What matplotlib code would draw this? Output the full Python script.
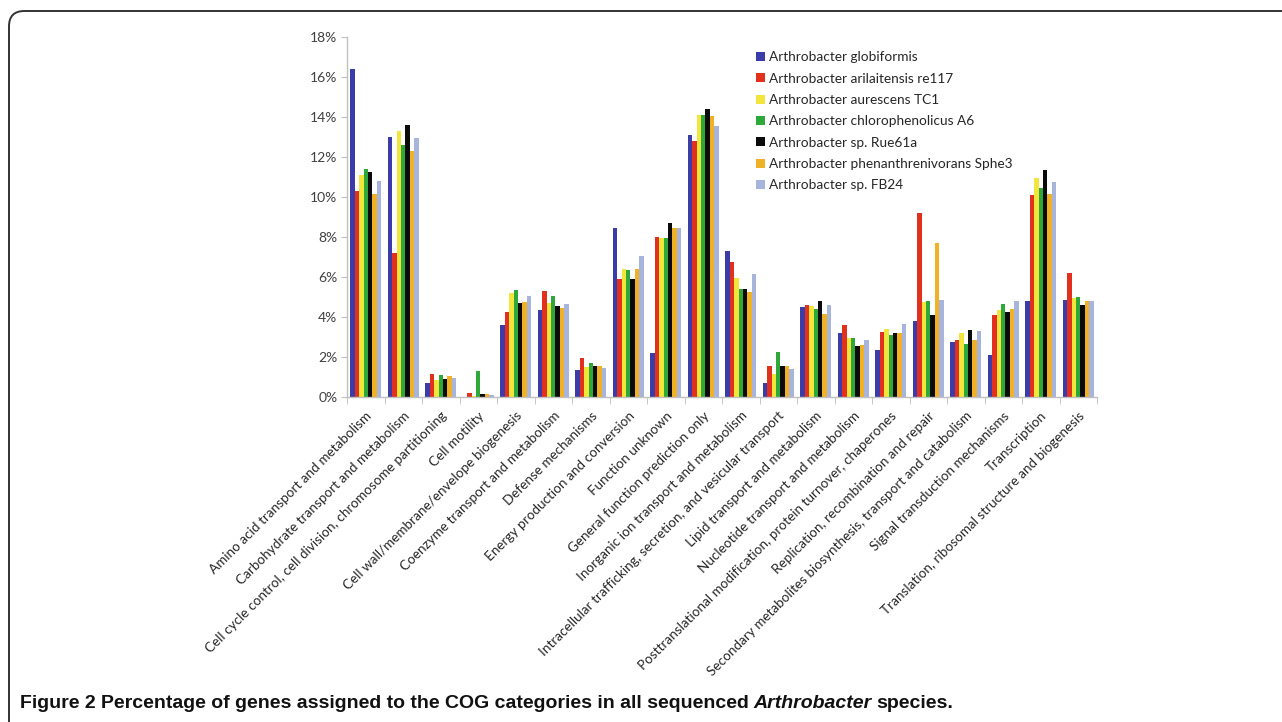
import numpy as np
import matplotlib
matplotlib.use("Agg")
import matplotlib.pyplot as plt
from matplotlib.patches import FancyBboxPatch

plt.rcParams['font.family'] = ['Lato', 'DejaVu Sans']

# COG categories and percentage of genes per species
categories = [
    "Amino acid transport and metabolism",
    "Carbohydrate transport and metabolism",
    "Cell cycle control, cell division, chromosome partitioning",
    "Cell motility",
    "Cell wall/membrane/envelope biogenesis",
    "Coenzyme transport and metabolism",
    "Defense mechanisms",
    "Energy production and conversion",
    "Function unknown",
    "General function prediction only",
    "Inorganic ion transport and metabolism",
    "Intracellular trafficking, secretion, and vesicular transport",
    "Lipid transport and metabolism",
    "Nucleotide transport and metabolism",
    "Posttranslational modification, protein turnover, chaperones",
    "Replication, recombination and repair",
    "Secondary metabolites biosynthesis, transport and catabolism",
    "Signal transduction mechanisms",
    "Transcription",
    "Translation, ribosomal structure and biogenesis",
]

species = [
    "Arthrobacter globiformis",
    "Arthrobacter arilaitensis re117",
    "Arthrobacter aurescens TC1",
    "Arthrobacter chlorophenolicus A6",
    "Arthrobacter sp. Rue61a",
    "Arthrobacter phenanthrenivorans Sphe3",
    "Arthrobacter sp. FB24",
]

globiformis = [16.4, 13.0, 0.70, 0.0, 3.6, 4.35, 1.35, 8.45, 2.2, 13.1, 7.3, 0.72, 4.5, 3.2, 2.37, 3.8, 2.76, 2.1, 4.8, 4.85]
arilaitensis = [10.3, 7.2, 1.17, 0.2, 4.25, 5.3, 1.93, 5.9, 8.0, 12.8, 6.75, 1.55, 4.6, 3.58, 3.27, 9.2, 2.83, 4.1, 10.1, 6.22]
aurescens = [11.1, 13.3, 0.87, 0.05, 5.2, 4.68, 1.5, 6.4, 7.97, 14.1, 5.97, 1.17, 4.57, 2.97, 3.4, 4.75, 3.2, 4.33, 10.97, 4.97]
chlorophenolicus = [11.4, 12.6, 1.08, 1.28, 5.33, 5.07, 1.68, 6.37, 7.97, 14.1, 5.38, 2.25, 4.4, 2.97, 3.12, 4.8, 2.66, 4.63, 10.45, 5.0]
rue61a = [11.25, 13.6, 0.92, 0.17, 4.68, 4.55, 1.55, 5.92, 8.7, 14.4, 5.38, 1.57, 4.8, 2.57, 3.18, 4.12, 3.35, 4.25, 11.35, 4.6]
phenanthrenivorans = [10.15, 12.3, 1.03, 0.13, 4.75, 4.47, 1.55, 6.42, 8.47, 14.05, 5.25, 1.55, 4.17, 2.62, 3.18, 7.68, 2.87, 4.4, 10.15, 4.8]
fb24 = [10.8, 12.93, 0.95, 0.08, 5.07, 4.65, 1.43, 7.07, 8.47, 13.57, 6.13, 1.38, 4.6, 2.87, 3.65, 4.85, 3.3, 4.8, 10.75, 4.8]

series = [globiformis, arilaitensis, aurescens, chlorophenolicus, rue61a, phenanthrenivorans, fb24]
colors = ['#3c3ca8', '#e2301f', '#f2e53c', '#2fa83a', '#0b0b0b', '#f0b126', '#a7b4dc']

fig = plt.figure(figsize=(12.82, 7.22), dpi=100)
ax = fig.add_axes([347 / 1282, 1 - 397 / 722, 750 / 1282, 360 / 722])

x = np.arange(len(categories))
bar_w = 0.118
for i, (vals, col, name) in enumerate(zip(series, colors, species)):
    ax.bar(x + (i - 3) * bar_w, vals, width=bar_w, color=col, label=name, linewidth=0)

ax.set_xlim(-0.5, len(categories) - 0.5)
ax.set_ylim(0, 18)
ax.set_yticks(np.arange(0, 19, 2))
ax.set_yticklabels([f"{v}%" for v in range(0, 19, 2)], fontsize=10, color='#404040')
ax.tick_params(axis='y', length=4, color='#bfbfbf', pad=3)

ax.set_xticks(x)
ax.set_xticklabels(categories, rotation=45, ha='right', rotation_mode='anchor',
                   fontsize=9.7, color='#262626')
ax.tick_params(axis='x', length=0, pad=9)
ax.set_xticks(np.arange(-0.5, len(categories), 1), minor=True)
ax.tick_params(axis='x', which='minor', length=5, color='#bfbfbf')

for side in ['top', 'right']:
    ax.spines[side].set_visible(False)
for side in ['left', 'bottom']:
    ax.spines[side].set_color('#c0c0c0')
    ax.spines[side].set_linewidth(1.0)

leg = ax.legend(loc='upper left', bbox_to_anchor=(0.545, 0.96), frameon=False,
                fontsize=9.85, handlelength=0.65, handleheight=0.65, handletextpad=0.35,
                labelspacing=0.68, borderpad=0, borderaxespad=0)
for t in leg.get_texts():
    t.set_color('#262626')

# rounded frame around the figure panel
frame = FancyBboxPatch((9 / 1282, -0.05), 1.2, 1 - 11 / 722 + 0.05,
                       boxstyle="round,pad=0,rounding_size=0.012",
                       transform=fig.transFigure, fill=False,
                       edgecolor='#333333', linewidth=1.4, mutation_aspect=1282 / 722)
fig.patches.append(frame)

# caption: bold, with the genus name in bold italic
fig.canvas.draw()
renderer = fig.canvas.get_renderer()
cap_kw = dict(fontsize=14.0, fontweight='bold', color='#111111', va='center',
              family=['Liberation Sans', 'DejaVu Sans'])
cx, cy = 20 / 1282, 1 - 704 / 722
parts = [("Figure 2 Percentage of genes assigned to the COG categories in all sequenced", 'normal', 0.0),
         ("Arthrobacter", 'italic', 4.5),
         ("species.", 'normal', 4.5)]
for txt, style, gap in parts:
    cx += gap / fig.bbox.width
    t = fig.text(cx, cy, txt, style=style, **cap_kw)
    bb = t.get_window_extent(renderer=renderer)
    cx += bb.width / fig.bbox.width

fig.savefig("out.png", dpi=100)
